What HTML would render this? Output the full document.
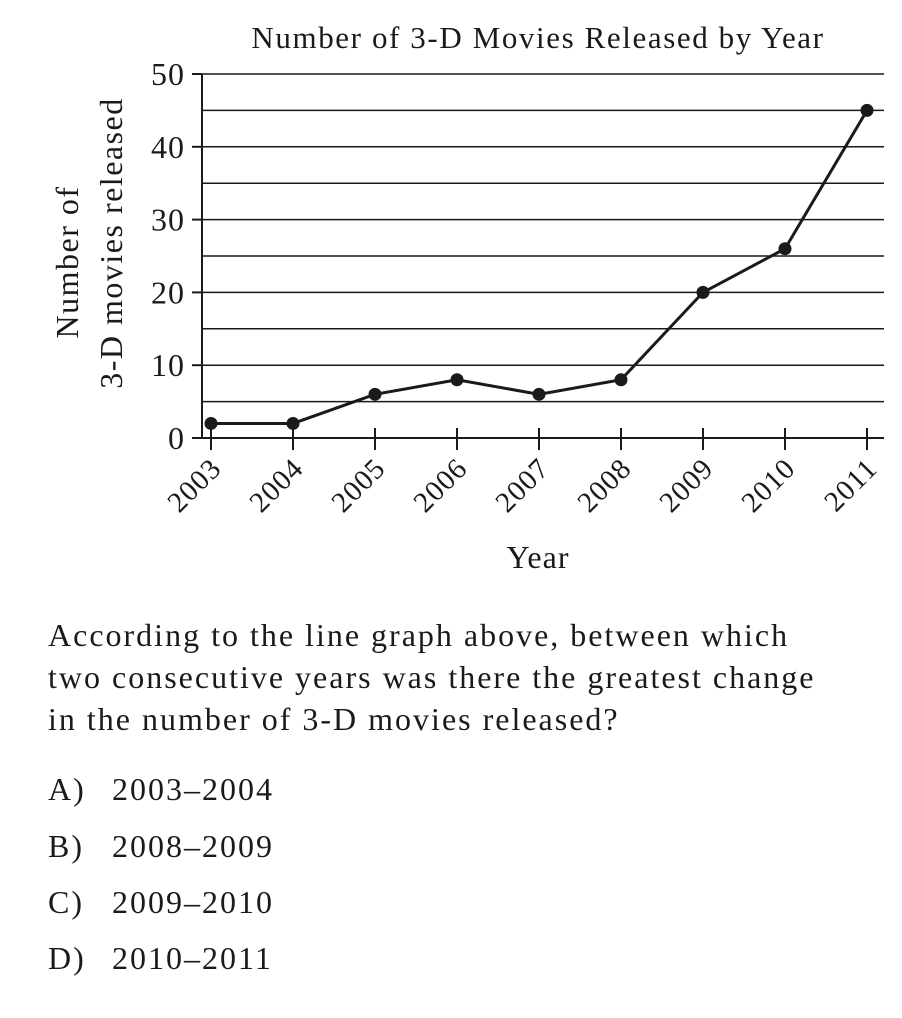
<!DOCTYPE html>
<html><head><meta charset="utf-8"><style>
body{margin:0;background:#fff;width:902px;height:1018px;overflow:hidden;font-family:"Liberation Serif",serif;color:#1a1a1a}
.q{position:absolute;left:48px;font-size:32px;line-height:42px;letter-spacing:2px;white-space:nowrap}
.c span{position:absolute;left:64px}
</style></head><body>
<svg id="chart" width="902" height="600" style="position:absolute;left:0;top:0" font-family="Liberation Serif, serif" fill="#1a1a1a"></svg>
<div class="q" style="top:614px">According to the line graph above, between which<br>two consecutive years was there the greatest change<br>in the number of 3-D movies released?</div>
<div class="q c" style="top:768px">A)<span>2003–2004</span></div>
<div class="q c" style="top:825px">B)<span>2008–2009</span></div>
<div class="q c" style="top:881px">C)<span>2009–2010</span></div>
<div class="q c" style="top:937px">D)<span>2010–2011</span></div>
<script>
const years=["2003","2004","2005","2006","2007","2008","2009","2010","2011"];
const movies=[2,2,6,8,6,8,20,26,45];
const yTicks=[0,10,20,30,40,50];
const svg=document.getElementById('chart');
const NS='http://www.w3.org/2000/svg';
function mk(t,a,txt){const e=document.createElementNS(NS,t);for(const k in a)e.setAttribute(k,a[k]);if(txt!=null)e.textContent=txt;svg.appendChild(e);return e;}
const x0=211,dx=82,yb=438,yt=74;
const X=i=>x0+i*dx;
const Y=v=>yb-(v/50)*(yb-yt);
for(let v=5;v<=50;v+=5){const g=mk('line',{x1:202,x2:884,y1:Y(v),y2:Y(v),stroke:'#1a1a1a','stroke-width':1.5});

}
yTicks.forEach(v=>{const t=mk('line',{x1:192,x2:202,y1:Y(v),y2:Y(v),stroke:'#1a1a1a','stroke-width':2});


const l=mk('text',{x:185,y:Y(v)+11,'text-anchor':'end','font-size':32,'letter-spacing':1},v);

});
const ya=mk('line',{x1:202,x2:202,y1:yt,y2:yb,stroke:'#1a1a1a','stroke-width':2});


const xa=mk('line',{x1:192,x2:884,y1:yb,y2:yb,stroke:'#1a1a1a','stroke-width':2});


years.forEach((yr,i)=>{const t=mk('line',{x1:X(i),x2:X(i),y1:yb-10,y2:yb+12,stroke:'#1a1a1a','stroke-width':2});


const l=mk('text',{x:X(i)+12,y:yb+32,'text-anchor':'end','font-size':29,'letter-spacing':1,transform:`rotate(-45 ${X(i)+12} ${yb+32})`},yr);

});
const line=mk('polyline',{points:movies.map((v,i)=>X(i)+','+Y(v)).join(' '),fill:'none',stroke:'#1a1a1a','stroke-width':3});


movies.forEach((v,i)=>{const c=mk('circle',{cx:X(i),cy:Y(v),r:6.5});

});
const ti=mk('text',{x:538,y:48,'text-anchor':'middle','font-size':31,'letter-spacing':1.6},'Number of 3-D Movies Released by Year');


const xt=mk('text',{x:538,y:568,'text-anchor':'middle','font-size':32,'letter-spacing':1},'Year');


const yt1=mk('text',{x:0,y:0,'text-anchor':'middle','font-size':32,'letter-spacing':1.5,transform:'translate(78 262) rotate(-90)'},'Number of');


const yt2=mk('text',{x:0,y:0,'text-anchor':'middle','font-size':32,'letter-spacing':1.5,transform:'translate(122 243) rotate(-90)'},'3-D movies released');


</script>
</body></html>
